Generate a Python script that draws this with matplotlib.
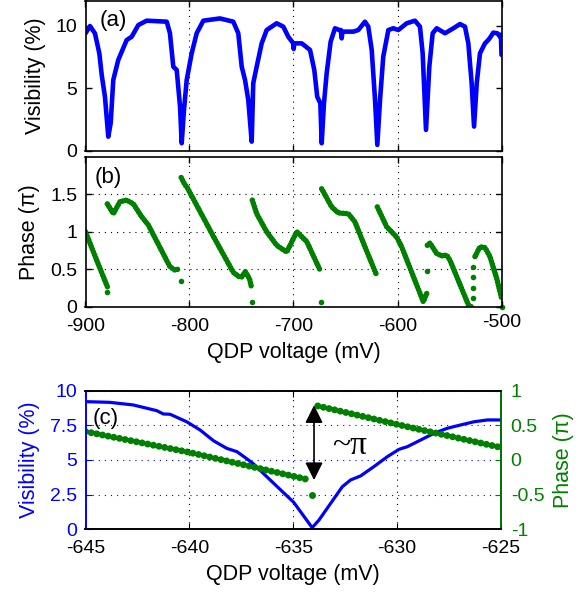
import matplotlib
matplotlib.use("Agg")
import matplotlib.pyplot as plt

plt.rcParams['font.family'] = ['Liberation Sans', 'DejaVu Sans']
plt.rcParams['axes.unicode_minus'] = False
plt.rcParams['xtick.direction'] = 'in'
plt.rcParams['ytick.direction'] = 'in'

BLUE = (0, 0, 1)
GREEN = (0, 0.5, 0)

# (a) visibility (%) vs QDP voltage (mV)
a_volt = [-900, -895.7, -890.9, -886.7, -884.4, -881.3, -878.1, -875.8, -873.3, -868.5,
          -860.4, -855.6, -849.2, -841.2, -821.9, -818.8, -815.6, -812.3, -809.1, -807.5,
          -805.3, -802.7, -797.9, -793.1, -786.7, -770.7, -757.9, -753.1, -749.8, -746.6,
          -743.5, -740.2, -738.7, -735.4, -730.6, -725.8, -716.2, -709.8, -705.0, -700.2,
          -699.8, -699.4, -692.1, -684.1, -680.0, -677.2, -674.2, -672.9, -670.7, -668.1,
          -664.3, -660.1, -656.0, -654.5, -653.7, -652.9, -642.5, -637.7, -631.3, -628.1,
          -624.8, -621.6, -619.4, -616.8, -613.7, -608.8, -604.0, -599.2, -591.2, -583.2,
          -578.4, -575.8, -572.6, -569.4, -566.2, -562.3, -554.3, -546.3, -539.9, -535.1,
          -531.9, -528.7, -526.4, -523.8, -520.7, -515.9, -512.7, -510.4, -507.9, -504.0,
          -501.4, -500.6, -500]
a_vis = [9.4, 9.99, 9.4, 7.8, 6.06, 4.32, 1.11, 2.19, 5.66, 7.27,
         8.87, 9.13, 10.07, 10.42, 10.34, 9.41, 6.73, 6.46, 3.52, 0.58,
         3.26, 5.66, 7.8, 9.41, 10.42, 10.6, 10.34, 9.41, 6.73, 5.66,
         4.06, 0.71, 5.4, 6.73, 8.6, 9.67, 10.21, 9.94, 9.13, 8.6,
         8.15, 8.6, 8.6, 8.07, 6.46, 4.32, 3.79, 0.58, 3.79, 6.2,
         8.73, 9.81, 9.67, 9.67, 9.0, 9.54, 9.54, 9.67, 10.34, 9.94,
         8.07, 4.06, 0.45, 4.06, 7.53, 9.67, 9.81, 9.67, 10.21, 10.42,
         9.94, 7.8, 1.65, 6.73, 9.41, 9.81, 9.41, 9.81, 10.15, 9.94,
         8.6, 5.4, 1.92, 5.4, 7.8, 8.6, 8.87, 9.13, 9.46, 9.41,
         9.13, 9.3, 7.67]

# (b) phase (pi) vs QDP voltage (mV), one list per continuous branch
b_volt = [
    [-900, -889.2, -879.0],
    [-879.0, -873.3, -866.8, -860.4, -854.0, -846.0, -839.6, -818.8, -813.9, -809.1],
    [-808.0, -804.3, -802.7, -777.1, -757.9, -752.0, -749.8, -746.3, -742.2, -740.2],
    [-739.6, -735.4, -725.8, -716.2, -706.5, -696.9, -687.3, -674.5],
    [-672.9, -663.3, -656.9, -647.3, -640.9, -631.3, -620.0],
    [-619.4, -610.4, -600.8, -596.0, -575.2, -571.9],
    [-571.3, -568.8, -562.3, -557.5, -552.7, -549.5, -531.9, -528.7],
    [-525.5, -520.7, -515.9, -511.1, -504.6, -499.9],
]
b_phase = [
    [1.0, 0.62, 0.27],
    [1.37, 1.24, 1.40, 1.42, 1.37, 1.20, 1.09, 0.535, 0.49, 0.51],
    [1.72, 1.62, 1.60, 0.94, 0.46, 0.40, 0.40, 0.47, 0.37, 0.25],
    [1.42, 1.24, 1.0, 0.82, 0.73, 1.0, 0.87, 0.49],
    [1.57, 1.33, 1.25, 1.24, 1.13, 0.80, 0.42],
    [1.33, 1.065, 0.93, 0.80, 0.07, 0.18],
    [0.82, 0.85, 0.71, 0.68, 0.69, 0.62, 0.03, 0.0],
    [0.67, 0.80, 0.79, 0.67, 0.38, 0.115],
]
b_lone_volt = [-879.0, -808.5, -739.6, -673.6, -571.9, -527.1, -527.1, -527.1, -527.1, -500]
b_lone_phase = [0.20, 0.35, 0.06, 0.07, 0.48, 0.115, 0.25, 0.40, 0.53, 0.0]

# (c) zoom around -635 mV
c_volt = [-645, -643.83, -642.7, -641.57, -641.25, -640.93, -640.13, -639.48, -638.84,
          -638.2, -637.71, -637.2, -636.9, -636.0, -634.98, -634.09, -633.77, -633.2,
          -632.64, -632.24, -631.76, -631.12, -630.47, -629.91, -629.51, -628.87, -628.22,
          -627.58, -626.94, -626.29, -625.65, -625]
c_vis = [9.21, 9.16, 8.97, 8.56, 8.32, 8.30, 7.76, 7.16, 6.39,
         5.84, 5.60, 5.05, 4.7, 3.4, 1.95, 0.12, 0.65, 1.87,
         3.07, 3.56, 3.85, 4.52, 5.24, 5.77, 5.96, 6.44, 6.93,
         7.29, 7.53, 7.76, 7.89, 7.89]
c_ph_left_volt = [-645, -640, -634.33]
c_ph_left = [0.41, 0.11, -0.28]
c_ph_right_volt = [-633.82, -629.51, -625]
c_ph_right = [0.78, 0.48, 0.18]
c_lone_volt = [-634.09]
c_lone_phase = [-0.51]

W, H = 583, 599
fig = plt.figure(figsize=(W / 100, H / 100), dpi=100)


def box(x0, y0, x1, y1):
    return [x0 / W, 1 - y1 / H, (x1 - x0) / W, (y1 - y0) / H]


dotted = (0, (1, 4.5))
TICK = 14
LAB = 15.5

# ---- (a)
ax1 = fig.add_axes(box(85.5, 1, 501.5, 150.5))
ax1.plot(a_volt, a_vis, color=BLUE, lw=3.3, solid_joinstyle='round', solid_capstyle='round')
ax1.set_xlim(-900, -500)
ax1.set_ylim(0, 12)
ax1.set_yticks([0, 5, 10])
ax1.set_xticks([-900, -800, -700, -600, -500])
ax1.set_xticklabels([])
ax1.grid(axis='x', color='k', linestyle=dotted, lw=0.8)
ax1.set_ylabel('Visibility (%)', fontsize=LAB, labelpad=7)
ax1.text(-886, 10.4, '(a)', fontsize=16, va='center')

# ---- (b)
ax2 = fig.add_axes(box(85.5, 156.5, 501.5, 307))
for vv, pp in zip(b_volt, b_phase):
    ax2.plot(vv, pp, color=GREEN, lw=4.0, linestyle=(0, (0.01, 0.55)),
             dash_capstyle='round', solid_capstyle='round')
ax2.plot(b_lone_volt, b_lone_phase, 'o', color=GREEN, ms=4.0, mec='none', clip_on=False)
ax2.set_xlim(-900, -500)
ax2.set_ylim(0, 2)
ax2.set_yticks([0, 0.5, 1, 1.5])
ax2.set_yticklabels(['0', '0.5', '1', '1.5'])
ax2.set_xticks([-900, -800, -700, -600, -500])
ax2.grid(color='k', linestyle=dotted, lw=0.8)
ax2.set_ylabel('Phase (π)', fontsize=LAB, labelpad=7)
ax2.set_xlabel('QDP voltage (mV)', fontsize=LAB, labelpad=5)
ax2.text(-891, 1.72, '(b)', fontsize=16, va='center')
# the -500 label sits a little higher in the original
ax2.get_xticklabels()[-1].set_y(0.025)

for ax in (ax1, ax2):
    ax.tick_params(labelsize=TICK, top=True, right=True, length=4, width=1)
    ax.tick_params(axis='x', pad=8)
    ax.tick_params(axis='y', pad=6)
    for s in ax.spines.values():
        s.set_linewidth(1.2)
    ax.set_axisbelow(True)

# ---- (c)
ax3 = fig.add_axes(box(85.5, 390.7, 501, 529.3))
ax3.plot(c_volt, c_vis, color=BLUE, lw=2.3, solid_joinstyle='round')
ax3.set_xlim(-645, -625)
ax3.set_ylim(0, 10)
ax3.set_xticks([-645, -640, -635, -630, -625])
ax3.set_yticks([0, 2.5, 5, 7.5, 10])
ax3.set_yticklabels(['0', '2.5', '5', '7.5', '10'])
ax3.grid(axis='x', color='k', linestyle=dotted, lw=0.8)
ax3.grid(axis='y', color=BLUE, linestyle=dotted, lw=0.8)
ax3.set_axisbelow(True)
ax3.set_ylabel('Visibility (%)', fontsize=LAB, color=BLUE, labelpad=7)
ax3.set_xlabel('QDP voltage (mV)', fontsize=LAB, labelpad=5)
ax3.tick_params(axis='y', colors=BLUE, labelsize=TICK, length=4, pad=6)
ax3.tick_params(axis='x', labelsize=TICK, top=True, length=4, pad=8)
ax3.spines['left'].set_color(BLUE)
ax3.text(-644.65, 8.0, '(c)', fontsize=16, va='center')

ax4 = ax3.twinx()
ax4.plot(c_ph_left_volt, c_ph_left, color=GREEN, lw=5.0, linestyle=(0, (0.01, 0.82)),
         dash_capstyle='round')
ax4.plot(c_ph_right_volt, c_ph_right, color=GREEN, lw=5.0, linestyle=(0, (0.01, 0.82)),
         dash_capstyle='round')
ax4.plot(c_lone_volt, c_lone_phase, 'o', color=GREEN, ms=5.0, mec='none')
ax4.set_ylim(-1, 1)
ax4.set_yticks([-1, -0.5, 0, 0.5, 1])
ax4.set_yticklabels(['-1', '-0.5', '0', '0.5', '1'])
ax4.set_ylabel('Phase (π)', fontsize=LAB, color=GREEN, labelpad=6)
ax4.tick_params(axis='y', colors=GREEN, labelsize=TICK, length=4, pad=7)
ax4.spines['right'].set_color(GREEN)
ax4.spines['left'].set_color(BLUE)
ax4.annotate('', xy=(-634.0, 0.79), xytext=(-634.0, -0.29),
             arrowprops=dict(arrowstyle='<|-|>,head_length=0.9,head_width=0.45',
                             color='k', lw=1.2, mutation_scale=12, shrinkA=0, shrinkB=0))
ax4.text(-633.15, 0.2, '~π', fontsize=24, va='center', family=['Liberation Serif', 'DejaVu Serif'])
for ax in (ax3, ax4):
    for s in ax.spines.values():
        s.set_linewidth(1.2)

fig.savefig('out.png', dpi=100)
